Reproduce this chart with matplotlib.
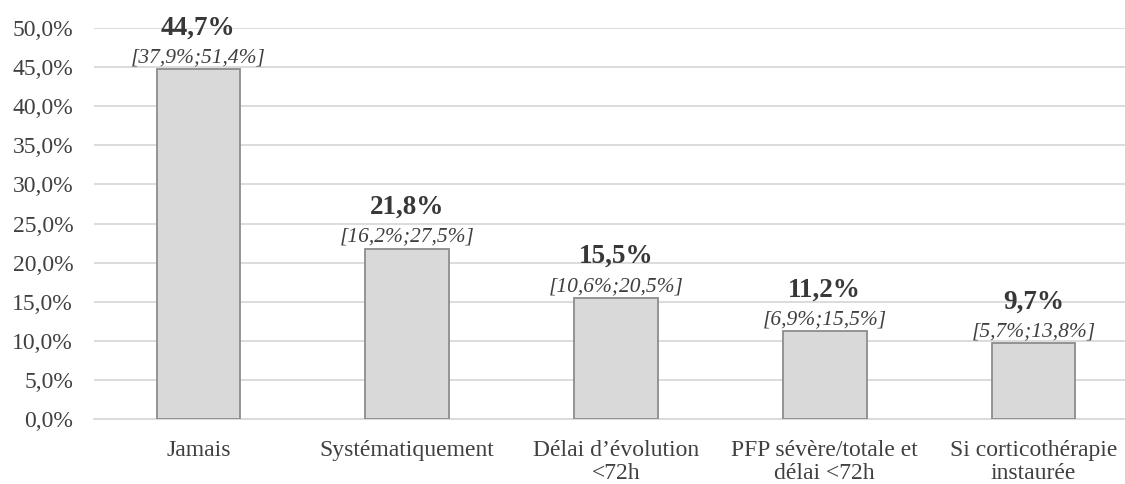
import matplotlib.pyplot as plt
import numpy as np

plt.rcParams['font.family'] = ['Liberation Serif', 'DejaVu Serif']

categories = ['Jamais', 'Systématiquement', 'Délai d\u2019évolution\n<72h',
              'PFP sévère/totale et\ndélai <72h', 'Si corticothérapie\ninstaurée']
values = [44.7, 21.8, 15.5, 11.2, 9.7]
ci_low = [37.9, 16.2, 10.6, 6.9, 5.7]
ci_high = [51.4, 27.5, 20.5, 15.5, 13.8]

def fr(v):
    return ('%.1f' % v).replace('.', ',') + '%'

fig = plt.figure(figsize=(11.25, 4.84), dpi=100)
ax = fig.add_axes([94 / 1125, 65 / 484, 1044 / 1125, 391 / 484])

x = np.arange(len(categories))
ax.bar(x, values, width=0.40, color='#d9d9d9', edgecolor='#8c8c8c',
       linewidth=1.3, zorder=3)

for xi, v, lo, hi in zip(x, values, ci_low, ci_high):
    ax.annotate('[%s;%s]' % (fr(lo), fr(hi)), (xi, v), xytext=(0, 5),
                textcoords='offset points', ha='center', va='baseline',
                fontsize=15.5, style='italic', color='#404040')
    ax.annotate(fr(v), (xi, v), xytext=(0, 25), textcoords='offset points',
                ha='center', va='baseline', fontsize=19.5, fontweight='bold',
                color='#383838')

ax.set_xlim(-0.5, len(categories) - 0.5)
ax.set_ylim(0, 50)
yt = np.arange(0, 50.1, 5)
ax.set_yticks(yt)
ax.set_yticklabels([fr(t) for t in yt])
ax.set_xticks(x)
ax.set_xticklabels(categories, linespacing=1.15)
ax.tick_params(axis='both', length=0, labelsize=17, colors='#404040')
ax.tick_params(axis='x', pad=15)
ax.tick_params(axis='y', pad=15)

ax.yaxis.grid(True, color='#d9d9d9', linewidth=1.3, zorder=0)
ax.set_axisbelow(True)
for side in ['top', 'right', 'left']:
    ax.spines[side].set_visible(False)
ax.spines['bottom'].set_color('#d9d9d9')
ax.spines['bottom'].set_linewidth(1.3)

fig.savefig('out.png', dpi=100)
